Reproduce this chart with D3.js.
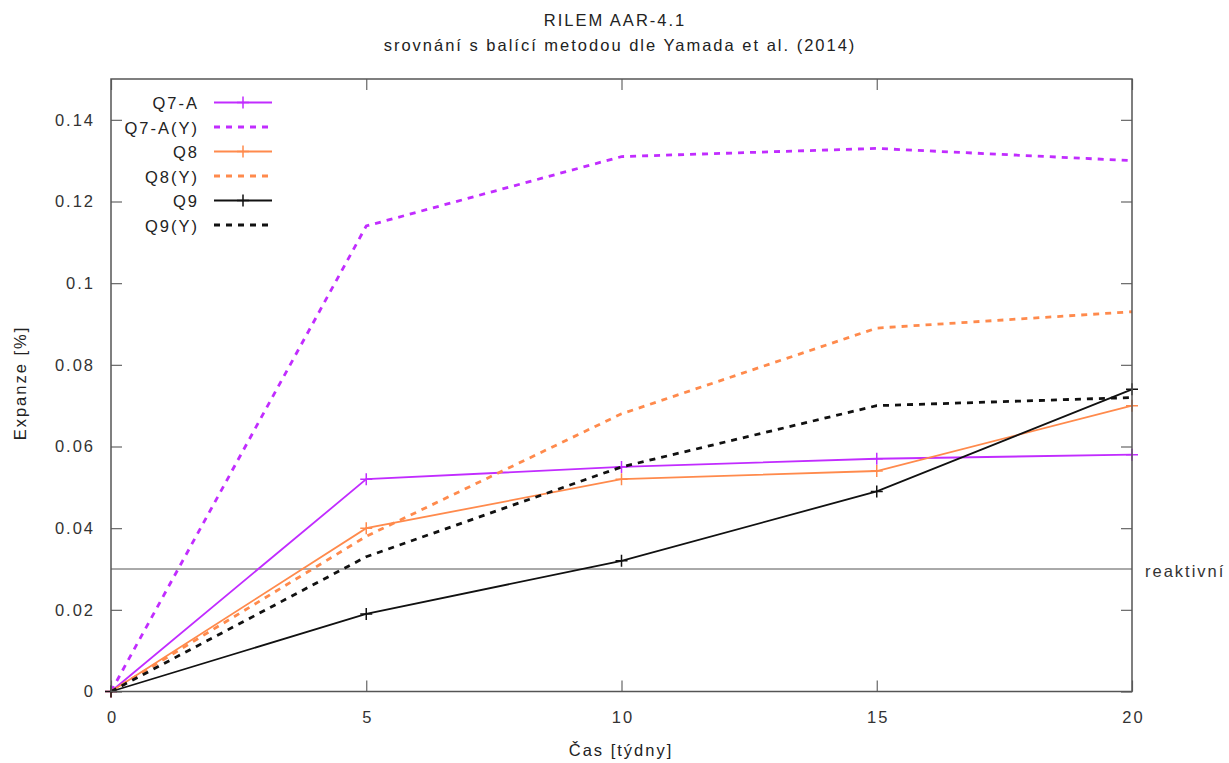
<!DOCTYPE html>
<html><head><meta charset="utf-8">
<script src="https://cdn.jsdelivr.net/npm/d3@7"></script>
<style>body{margin:0;background:#fff}svg{display:block}text{font-family:"Liberation Sans",Arial,sans-serif;letter-spacing:2px}</style>
</head><body><svg id="c" width="1229" height="763"></svg>
<script>
const weeks = [0, 5, 10, 15, 20];
const q7a  = [0, 0.052, 0.055, 0.057, 0.058];
const q7aY = [0, 0.114, 0.131, 0.133, 0.130];
const q8   = [0, 0.040, 0.052, 0.054, 0.070];
const q8Y  = [0, 0.038, 0.068, 0.089, 0.093];
const q9   = [0, 0.019, 0.032, 0.049, 0.074];
const q9Y  = [0, 0.033, 0.055, 0.070, 0.072];
const seriesNames = ["Q7-A", "Q7-A(Y)", "Q8", "Q8(Y)", "Q9", "Q9(Y)"];
const xTicks = [0, 5, 10, 15, 20];
const yTicks = [0, 0.02, 0.04, 0.06, 0.08, 0.1, 0.12, 0.14];
const threshold = 0.03;
const thresholdLabel = "reaktivní";
const title = "RILEM AAR-4.1";
const subtitle = "srovnání s balící metodou dle Yamada et al. (2014)";
const xLabel = "Čas [týdny]";
const yLabel = "Expanze [%]";

const purple = "#c12cff", orange = "#ff8a4c", black = "#111";
const series = [
  {name: seriesNames[0], vals: q7a,  color: purple, dash: null, marker: true},
  {name: seriesNames[1], vals: q7aY, color: purple, dash: "6,6", marker: false},
  {name: seriesNames[2], vals: q8,   color: orange, dash: null, marker: true},
  {name: seriesNames[3], vals: q8Y,  color: orange, dash: "6,6", marker: false},
  {name: seriesNames[4], vals: q9,   color: black,  dash: null, marker: true},
  {name: seriesNames[5], vals: q9Y,  color: black,  dash: "6,6", marker: false}
];

const svg = d3.select("#c");
const L = 111, R = 1132, T = 79, B = 691.5;
const x = d3.scaleLinear().domain([0, 20]).range([L, R]);
const y = d3.scaleLinear().domain([0, 0.15]).range([B, T]);
const tickCol = "#333";
const FS = 16.5;

// titles
svg.append("text").attr("x", 615).attr("y", 26).attr("text-anchor", "middle")
  .attr("font-size", FS).attr("fill", "#222").text(title);
svg.append("text").attr("x", 620).attr("y", 51).attr("text-anchor", "middle")
  .attr("font-size", FS).attr("fill", "#222").text(subtitle);

// threshold line
svg.append("line").attr("x1", L).attr("x2", R).attr("y1", y(threshold)).attr("y2", y(threshold))
  .attr("stroke", "#555").attr("stroke-width", 1);
svg.append("text").attr("x", 1145).attr("y", y(threshold) + 7.5).attr("font-size", FS)
  .attr("fill", "#333").text(thresholdLabel);

// axes with mirrored inward ticks
const tickLen = 11;
const axB = svg.append("g").attr("transform", `translate(0,${B})`)
  .call(d3.axisBottom(x).tickValues(xTicks).tickSize(-tickLen).tickPadding(20).tickFormat(d3.format("d")));
const axT = svg.append("g").attr("transform", `translate(0,${T})`)
  .call(d3.axisTop(x).tickValues(xTicks).tickSize(-tickLen).tickFormat(""));
const axL = svg.append("g").attr("transform", `translate(${L},0)`)
  .call(d3.axisLeft(y).tickValues(yTicks).tickSize(-tickLen).tickPadding(16).tickFormat(d => d === 0 ? "0" : String(+d.toFixed(2))));
const axR = svg.append("g").attr("transform", `translate(${R},0)`)
  .call(d3.axisRight(y).tickValues(yTicks).tickSize(-tickLen).tickFormat(""));
[axB, axT, axL, axR].forEach(g => {
  g.select(".domain").remove();
  g.selectAll(".tick line").attr("stroke", "#666").attr("stroke-width", 1.2);
  g.selectAll(".tick text").attr("font-size", FS).attr("fill", tickCol).style("font-family", '"Liberation Sans",Arial,sans-serif');
});
axB.selectAll(".tick text").attr("dx", 1);

// series
const line = d3.line().x((d, i) => x(weeks[i])).y(d => y(d));
series.forEach(s => {
  svg.append("path").datum(s.vals).attr("d", line).attr("fill", "none")
    .attr("stroke", s.color).attr("stroke-width", s.dash ? 2.8 : 1.8)
    .attr("stroke-dasharray", s.dash);
  if (s.marker) {
    s.vals.forEach((v, i) => {
      const cx = x(weeks[i]), cy = y(v);
      svg.append("path").attr("d", `M${cx-6},${cy}H${cx+6}M${cx},${cy-6}V${cy+6}`)
        .attr("stroke", s.color).attr("stroke-width", 1.5);
    });
  }
});

// frame
svg.append("rect").attr("x", L).attr("y", T).attr("width", R - L).attr("height", B - T)
  .attr("fill", "none").attr("stroke", "#555").attr("stroke-width", 1.5);

// legend
series.forEach((s, i) => {
  const ly = 102.5 + i * 24.5;
  svg.append("text").attr("x", 199).attr("y", ly + 6.5).attr("text-anchor", "end")
    .attr("font-size", FS).attr("fill", "#222").text(s.name);
  svg.append("line").attr("x1", 214).attr("x2", 272).attr("y1", ly).attr("y2", ly)
    .attr("stroke", s.color).attr("stroke-width", s.dash ? 2.8 : 1.8)
    .attr("stroke-dasharray", s.dash);
  if (s.marker) {
    svg.append("path").attr("d", `M237,${ly}H249M243,${ly-6}V${ly+6}`)
      .attr("stroke", s.color).attr("stroke-width", 1.5);
  }
});

// axis labels
svg.append("text").attr("x", 621).attr("y", 756).attr("text-anchor", "middle")
  .attr("font-size", FS).attr("fill", "#222").text(xLabel);
svg.append("text").attr("transform", "translate(25.5,383) rotate(-90)").attr("text-anchor", "middle")
  .attr("font-size", FS).attr("fill", "#222").text(yLabel);
</script></body></html>
